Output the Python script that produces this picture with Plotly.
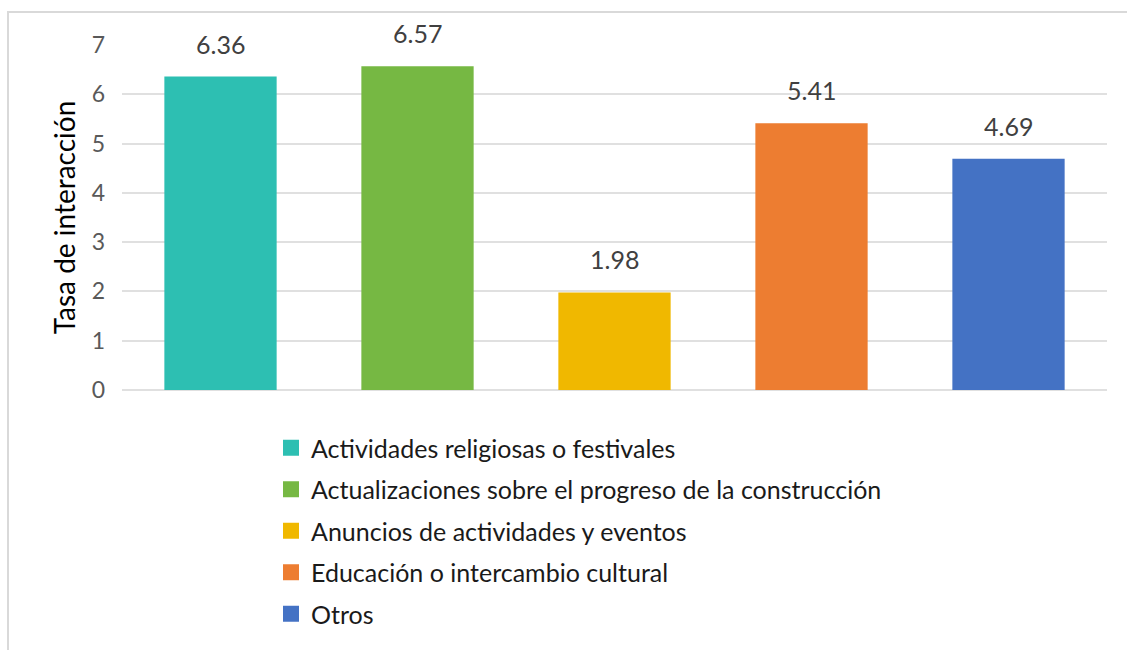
import plotly.graph_objects as go

categories = [
    "Actividades religiosas o festivales",
    "Actualizaciones sobre el progreso de la construcción",
    "Anuncios de actividades y eventos",
    "Educación o intercambio cultural",
    "Otros",
]
values = [6.36, 6.57, 1.98, 5.41, 4.69]
labels = ["6.36", "6.57", "1.98", "5.41", "4.69"]
colors = ["#2DBFB2", "#76B843", "#F0B800", "#ED7D31", "#4472C4"]
y_ticks = [0, 1, 2, 3, 4, 5, 6, 7]

FONT = "Lato"
W, H = 1127, 650
ML, MR, MT, MB = 122, 20, 45, 260
PW, PH = W - ML - MR, H - MT - MB


def px_x(px):
    return (px - ML) / PW


def px_y(py):
    return (H - MB - py) / PH


fig = go.Figure()
fig.add_trace(go.Bar(
    x=categories, y=values,
    marker=dict(color=colors, line=dict(width=0)),
    showlegend=False, hoverinfo="x+y",
))
for c, col in zip(categories, colors):
    fig.add_trace(go.Scatter(
        x=[None], y=[None], mode="markers", name=c,
        marker=dict(symbol="square", size=17, color=col),
        legendgroup=c,
    ))

for c, v, t in zip(categories, values, labels):
    fig.add_annotation(x=c, y=v, text=t, showarrow=False, yshift=33,
                       font=dict(family=FONT, size=25, color="#404040"))

# partial frame (top and left edges)
line_style = dict(color="#D9D9D9", width=2)
fig.add_shape(type="line", xref="paper", yref="paper",
              x0=px_x(7), x1=px_x(1127), y0=px_y(12), y1=px_y(12), line=line_style)
fig.add_shape(type="line", xref="paper", yref="paper",
              x0=px_x(8), x1=px_x(8), y0=px_y(11), y1=px_y(650), line=line_style)

fig.update_layout(
    width=W, height=H,
    margin=dict(l=ML, r=MR, t=MT, b=MB, autoexpand=False),
    paper_bgcolor="white", plot_bgcolor="white",
    bargap=0.43,
    font=dict(family=FONT, size=20, color="#595959"),
    xaxis=dict(showticklabels=False, showgrid=False, zeroline=False, showline=False,
               ticks="", automargin=False),
    yaxis=dict(range=[0, 7], tickvals=y_ticks, showgrid=True, gridcolor="#E0E0E0",
               gridwidth=2, zeroline=True, zerolinecolor="#E0E0E0", zerolinewidth=2,
               showline=False, ticks="", ticklabelstandoff=16, automargin=False,
               tickfont=dict(family=FONT, size=23, color="#595959"),
               title=dict(text="Tasa de interacción", standoff=7,
                          font=dict(family=FONT, size=28, color="#000000"))),
    legend=dict(x=px_x(271), y=px_y(425), xanchor="left", yanchor="top",
                traceorder="grouped", tracegroupgap=6, itemsizing="trace",
                font=dict(family=FONT, size=25, color="#1a1a1a"),
                bgcolor="rgba(0,0,0,0)"),
)

fig.write_html("out.html", config={"displayModeBar": False},
               post_script="document.body.style.margin='0';")
